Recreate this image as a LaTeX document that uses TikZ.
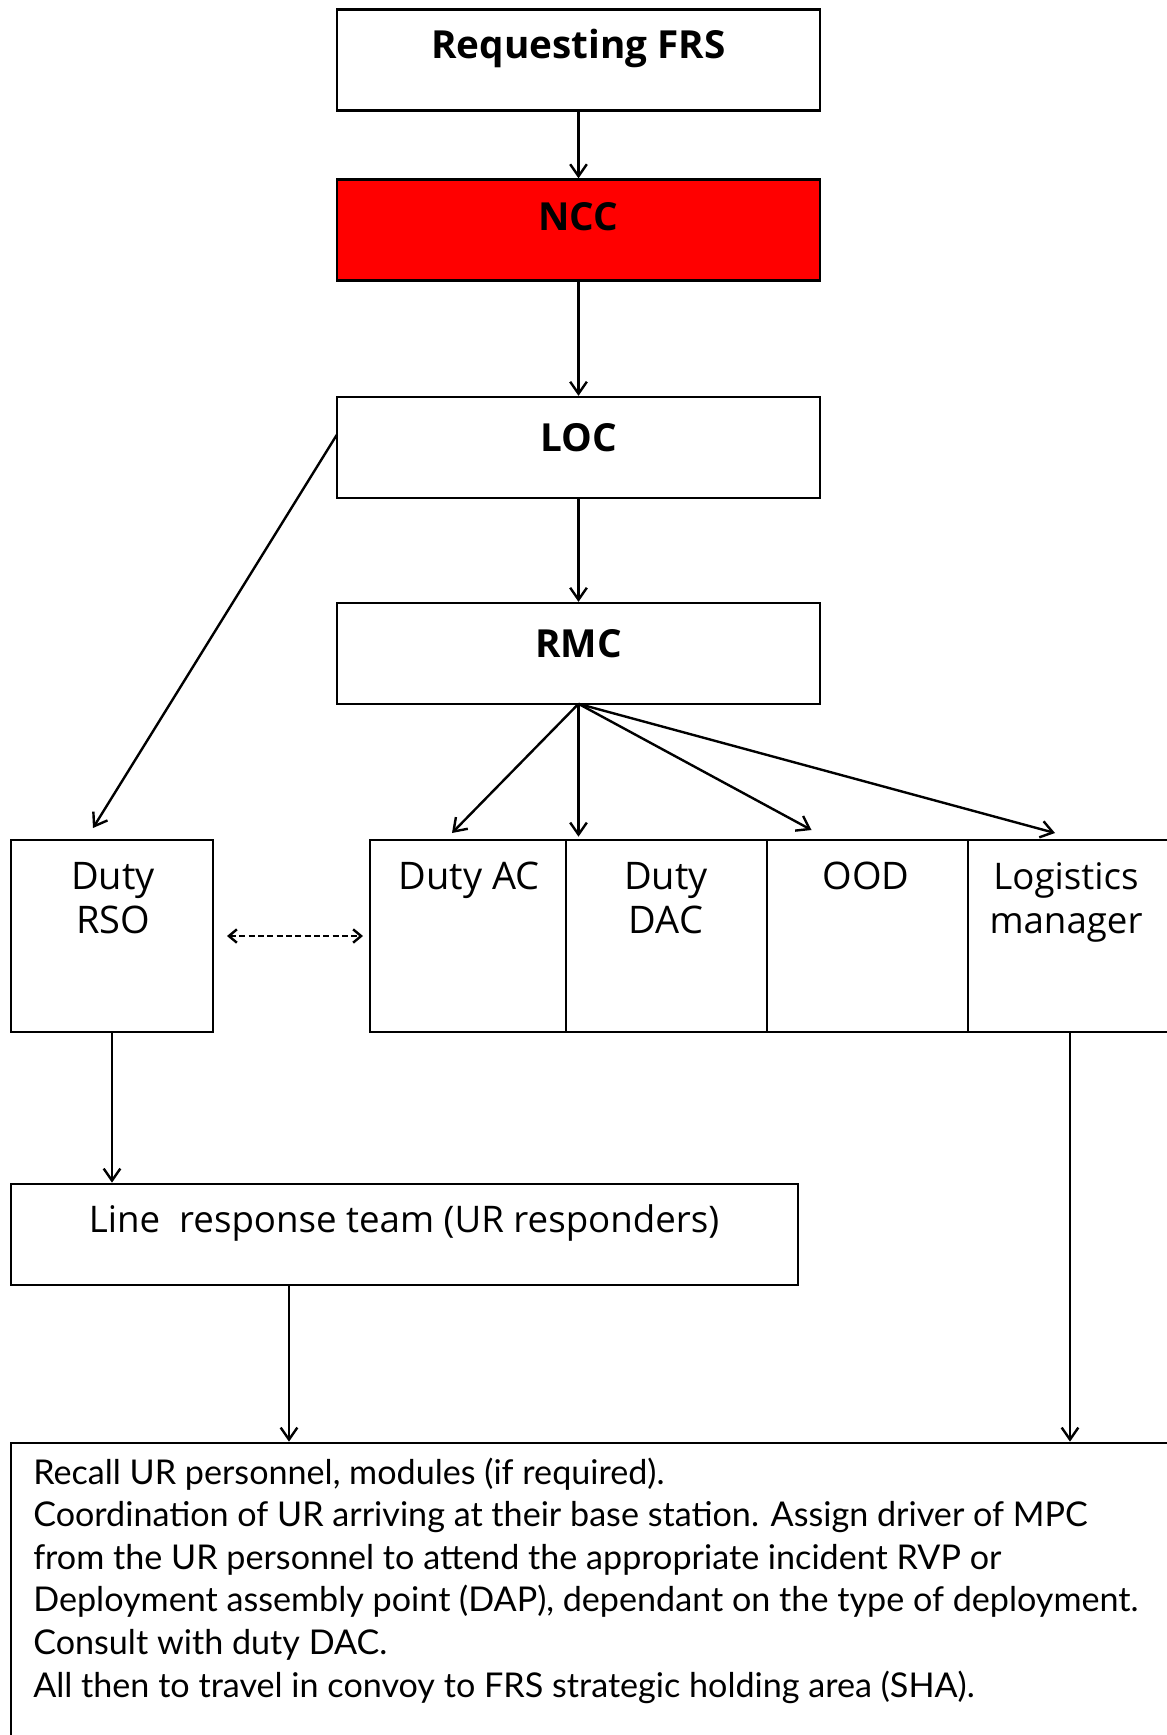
\documentclass[tikz,border=0pt]{standalone}
\usepackage{fontspec}
\setmainfont{Open Sans}
\newfontfamily\notefont{Lato}
\usetikzlibrary{arrows.meta,calc}
\begin{document}
\begin{tikzpicture}[x=0.75pt,y=-0.75pt]
\tikzset{
  boxline/.style={draw=black, line width=1.9pt, rectangle, inner sep=0pt, outer sep=0pt},
  wide/.style={boxline, minimum width=362.25pt, minimum height=75.5pt},
  tall/.style={boxline, minimum height=144pt},
  ttl/.style={anchor=base, inner sep=0pt, font=\fontsize{29}{34}\selectfont\bfseries},
  lbl/.style={anchor=base, inner sep=0pt, align=center, font=\fontsize{28.5}{33}\selectfont},
  arr/.style={line width=1.8pt, -{Straight Barb[length=9pt,width=12.5pt,line width=1.8pt]}, shorten >=1pt},
  twoway/.style={line width=1.8pt, {Straight Barb[length=6pt,width=10pt,line width=1.8pt]}-{Straight Barb[length=6pt,width=10pt,line width=1.8pt]}, dash pattern=on 4.5pt off 2.5pt},
}
\useasboundingbox (0,0) rectangle (1167,1735);
\clip (0,0) rectangle (1167,1735);

% top chain of control boxes
\node[wide] (frs) at (578.5,60) {};
\node[wide, fill=red] (ncc) at (578.5,230) {};
\node[wide] (loc) at (578.5,447.5) {};
\node[wide] (rmc) at (578.5,653.5) {};
\node[ttl] (frst) at (578.5,58) {Requesting FRS};
\node[ttl] (ncct) at (578.5,230) {NCC};
\node[ttl] (loct) at (578.5,451) {LOC};
\node[ttl] (rmct) at (578.5,657) {RMC};

% duty officers row (base anchor of a two-line label sits on its last line)
\node[tall, minimum width=151.5pt] (rso) at (112,936) {};
\node[tall, minimum width=147pt] (dac1) at (468,936) {};
\node[tall, minimum width=150.75pt] (dac2) at (666.5,936) {};
\node[tall, minimum width=150.75pt] (ood) at (867.5,936) {};
\node[tall, minimum width=166.5pt] (logi) at (1079,936) {};
\node[lbl] (rsot) at (113,933) {Duty\\RSO};
\node[lbl] (dac1t) at (469,889) {Duty AC};
\node[lbl] (dac2t) at (666,933) {Duty\\DAC};
\node[lbl] (oodt) at (866,889) {OOD};
\node[lbl, font=\fontsize{27.5}{33}\selectfont] (logit) at (1066,933) {Logistics\\manager};

% line response team and final actions
\node[boxline, minimum width=590.25pt, minimum height=75.75pt] (lrt) at (404.5,1234.5) {};
\node[lbl, font=\fontsize{27.5}{33}\selectfont] (lrtt) at (404,1232) {Line\ \ response team (UR responders)};
\node[boxline, minimum width=884.25pt, minimum height=237.75pt] (notes) at (600.5,1601.5) {};
\node[anchor=base west, inner sep=0pt, align=left, font=\notefont\fontsize{25.6}{31.9}\selectfont] (notet) at (33,1697) {Recall UR personnel, modules (if required).\\
Coordination of UR arriving at their base station. Assign driver of MPC\\
from the UR personnel to attend the appropriate incident RVP or\\
Deployment assembly point (DAP), dependant on the type of deployment.\\
Consult with duty DAC.\\
All then to travel in convoy to FRS strategic holding area (SHA).};

% connectors
\draw[arr] (frs.south) -- (ncc.north);
\draw[arr] (ncc.south) -- (loc.north);
\draw[arr] (loc.south) -- (rmc.north);
\draw[arr, shorten >=0pt] ($(loc.west)+(0,-13)$) -- ($(rso.north)+(-19,-12)$);
\draw[arr, shorten >=0pt] (rmc.south) -- ($(dac1.north)+(-16,-7)$);
\draw[arr] (rmc.south) -- ($(rmc.south |- dac2.north)+(0,-2)$);
\draw[arr, shorten >=0pt] (rmc.south) -- ($(ood.north)+(-56,-10)$);
\draw[arr, shorten >=0pt] (rmc.south) -- ($(logi.north)+(-24,-7)$);
\draw[twoway, shorten <=10.5pt, shorten >=5.25pt] (rso.east) -- (dac1.west);
\draw[arr] (rso.south) -- (rso.south |- lrt.north);
\coordinate (lrtout) at ($(lrt.south west)+(278,0)$);
\draw[arr] (lrtout) -- (lrtout |- notes.north);
\coordinate (logiout) at ($(logi.south)+(-9,0)$);
\draw[arr] (logiout) -- (logiout |- notes.north);
\end{tikzpicture}
\end{document}
